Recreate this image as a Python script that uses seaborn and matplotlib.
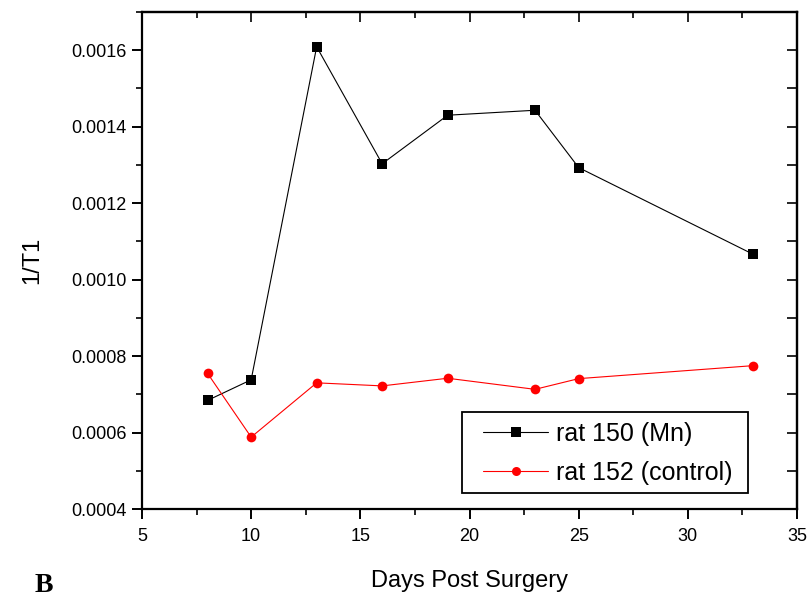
import numpy as np
import pandas as pd
import matplotlib
matplotlib.use("Agg")
import matplotlib.pyplot as plt
from matplotlib.ticker import MultipleLocator, FormatStrFormatter
from matplotlib.patches import Rectangle
import seaborn as sns

days = [8, 10, 13, 16, 19, 23, 25, 33]
rat150 = [0.000684, 0.000738, 0.001609, 0.001303, 0.001430, 0.001443, 0.001293, 0.001066]
rat152 = [0.000755, 0.000588, 0.000730, 0.000722, 0.000742, 0.000713, 0.000741, 0.000775]
series_names = ["rat 150 (Mn)", "rat 152 (control)"]

df = pd.DataFrame({
    "day": days * 2,
    "val": rat150 + rat152,
    "series": [series_names[0]] * len(days) + [series_names[1]] * len(days),
})

sns.set_theme(style="ticks")
plt.rcParams["font.family"] = ["Liberation Sans", "DejaVu Sans"]
plt.rcParams["text.color"] = "black"
plt.rcParams["axes.labelcolor"] = "black"

fig = plt.figure(figsize=(8.07, 6.00), dpi=100)
ax = fig.add_axes([142 / 807, 1 - 509 / 600, (797 - 142) / 807, (509 - 12) / 600])

sns.lineplot(data=df, x="day", y="val", hue="series", style="series",
             palette={series_names[0]: "black", series_names[1]: "#ff0000"},
             markers={series_names[0]: "s", series_names[1]: "o"},
             dashes=False, markersize=7, linewidth=0.8, markeredgewidth=0,
             ax=ax, legend=True)

ax.set_xlim(5, 35)
ax.set_ylim(0.0004, 0.0017)
ax.xaxis.set_major_locator(MultipleLocator(5))
ax.xaxis.set_minor_locator(MultipleLocator(2.5))
ax.yaxis.set_major_locator(MultipleLocator(0.0002))
ax.yaxis.set_minor_locator(MultipleLocator(0.0001))
ax.yaxis.set_major_formatter(FormatStrFormatter("%.4f"))

for s in ax.spines.values():
    s.set_linewidth(1.6)
    s.set_color("black")

ax.tick_params(axis="both", which="major", direction="out", length=7, width=1.4,
               labelsize=13, colors="black")
ax.tick_params(axis="x", which="major", pad=7)
ax.tick_params(axis="y", which="major", pad=4)
ax.tick_params(axis="both", which="minor", direction="out", length=4, width=1.4)

# top and right inward ticks
top = ax.secondary_xaxis("top")
top.xaxis.set_major_locator(MultipleLocator(5))
top.xaxis.set_minor_locator(MultipleLocator(2.5))
top.tick_params(which="major", direction="in", length=7, width=1.4, labeltop=False)
top.tick_params(which="minor", direction="in", length=4, width=1.4)
top.spines["top"].set_linewidth(1.6)
right = ax.secondary_yaxis("right")
right.yaxis.set_major_locator(MultipleLocator(0.0002))
right.yaxis.set_minor_locator(MultipleLocator(0.0001))
right.tick_params(which="both", direction="in", length=7, width=1.4, labelright=False)
right.spines["right"].set_linewidth(1.6)

ax.set_xlabel("Days Post Surgery", fontsize=17, labelpad=18)
ax.set_ylabel("1/T1", fontsize=17, labelpad=20)

handles, labels = ax.get_legend_handles_labels()
leg = ax.legend(handles, labels, loc="upper left",
                bbox_to_anchor=((483 - 142) / 655, (509 - 422) / 497),
                fontsize=18, frameon=False, handlelength=2.6,
                handletextpad=0.3, borderpad=0.0, labelspacing=0.6,
                borderaxespad=0)
for h in leg.legend_handles:
    h.set_markersize(6.5)
ax.add_patch(Rectangle(((462 - 142) / 655, (509 - 493) / 497),
                       (748 - 462) / 655, (493 - 412) / 497,
                       transform=ax.transAxes, fill=True, facecolor="none",
                       edgecolor="black", linewidth=1.3, zorder=5))

fig.text(35 / 807, 1 - 585 / 600, "B", fontsize=20, fontweight="bold",
         family="Liberation Serif", va="center", ha="left")

fig.savefig("out.png", dpi=100)
